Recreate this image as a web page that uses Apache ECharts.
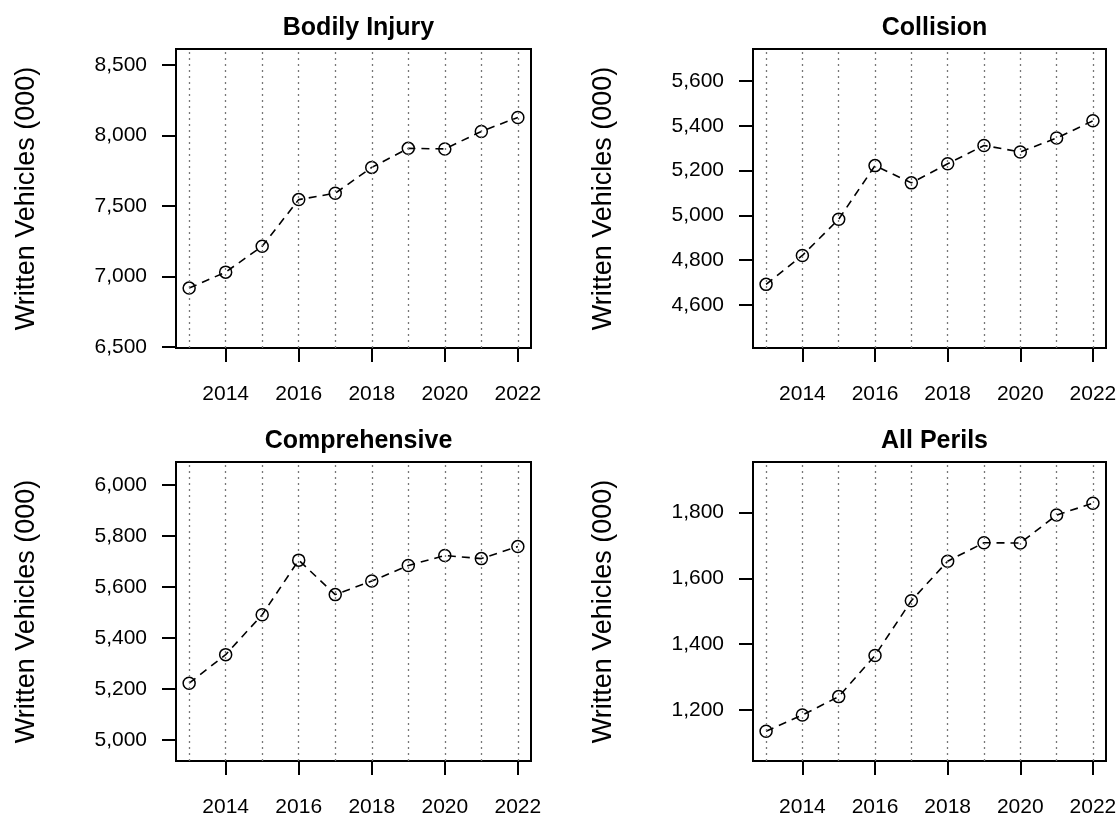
<!DOCTYPE html>
<html lang="en">
<head>
  <meta charset="utf-8">
  <title>Written Vehicles (000)</title>
  <script type="text/javascript" src="https://cdn.jsdelivr.net/npm/echarts@6/dist/echarts.min.js"></script>
  <style type="text/css">
    * {
      margin: 0;
      padding: 0;
    }
    html, body, #chart {
      width: 100%;
      height: 100%;
      overflow: hidden;
      background: #fff;
    }
  </style>
</head>
<body>
  <div id="chart"></div>
  <script type="text/javascript">
    // data
    var years = [2013, 2014, 2015, 2016, 2017, 2018, 2019, 2020, 2021, 2022];
    var yearTicks = [2014, 2016, 2018, 2020, 2022];

    var panelTitles = ['Bodily Injury', 'Collision', 'Comprehensive', 'All Perils'];

    var bodilyInjury = [6919, 7032, 7216, 7546, 7591, 7774, 7909, 7905, 8029, 8128];
    var collision = [4692, 4821, 4983, 5222, 5145, 5230, 5312, 5283, 5345, 5422];
    var comprehensive = [5223, 5335, 5491, 5705, 5570, 5623, 5684, 5723, 5711, 5758];
    var allPerils = [1136, 1185, 1241, 1366, 1532, 1652, 1708, 1707, 1792, 1828];

    var bodilyInjuryTicks = [6500, 7000, 7500, 8000, 8500];
    var collisionTicks = [4600, 4800, 5000, 5200, 5400, 5600];
    var comprehensiveTicks = [5000, 5200, 5400, 5600, 5800, 6000];
    var allPerilsTicks = [1200, 1400, 1600, 1800];

    var panelValues = [bodilyInjury, collision, comprehensive, allPerils];
    var panelTicks = [bodilyInjuryTicks, collisionTicks, comprehensiveTicks, allPerilsTicks];

    // plot boxes [left, top, width, height]
    var boxes = [
      [176, 49, 355, 299],
      [753, 49, 353, 299],
      [176, 462, 355, 299],
      [753, 462, 353, 299]
    ];

    var FONT = '"Liberation Sans", Arial, sans-serif';

    // R style limits: ylim = c(min*0.95, max*1.05), then 4% padding
    function padRange(lo, hi) {
      var d = (hi - lo) * 0.04;
      return [lo - d, hi + d];
    }
    var xRange = padRange(Math.min.apply(null, years), Math.max.apply(null, years));

    var grids = [], xAxes = [], yAxes = [], series = [], titles = [];

    boxes.forEach(function (b, i) {
      var vals = panelValues[i];
      var yRange = padRange(Math.min.apply(null, vals) * 0.95, Math.max.apply(null, vals) * 1.05);

      grids.push({
        left: b[0], top: b[1], width: b[2], height: b[3],
        show: true,
        borderColor: '#000',
        borderWidth: 2,
        backgroundColor: 'transparent'
      });

      titles.push({
        text: panelTitles[i],
        left: b[0] + b[2] / 2,
        top: b[1] - 38,
        textAlign: 'center',
        textStyle: {
          fontFamily: FONT,
          fontSize: 25,
          fontWeight: 'bold',
          color: '#000'
        }
      });

      xAxes.push({
        gridIndex: i,
        type: 'value',
        min: xRange[0],
        max: xRange[1],
        axisLine: { show: false },
        splitLine: { show: false },
        axisTick: {
          show: true,
          customValues: yearTicks,
          length: 14,
          lineStyle: { color: '#000', width: 2 }
        },
        axisLabel: {
          customValues: yearTicks,
          margin: 36,
          fontFamily: FONT,
          fontSize: 21,
          color: '#000',
          formatter: function (v) { return String(v); }
        }
      });

      yAxes.push({
        gridIndex: i,
        type: 'value',
        min: yRange[0],
        max: yRange[1],
        name: 'Written Vehicles (000)',
        nameLocation: 'middle',
        nameRotate: 90,
        nameGap: 136,
        nameTextStyle: {
          fontFamily: FONT,
          fontSize: 27,
          color: '#000'
        },
        axisLine: { show: false },
        splitLine: { show: false },
        axisTick: {
          show: true,
          customValues: panelTicks[i],
          length: 14,
          lineStyle: { color: '#000', width: 2 }
        },
        axisLabel: {
          customValues: panelTicks[i],
          margin: 29,
          fontFamily: FONT,
          fontSize: 21,
          color: '#000',
          formatter: function (v) { return Math.round(v).toLocaleString('en-US'); }
        }
      });

      series.push({
        type: 'line',
        xAxisIndex: i,
        yAxisIndex: i,
        data: years.map(function (y, k) { return [y, vals[k]]; }),
        symbol: 'circle',
        symbolSize: 12,
        itemStyle: {
          color: 'transparent',
          borderColor: '#000',
          borderWidth: 1.5
        },
        lineStyle: {
          color: '#000',
          width: 1.6,
          type: [8, 6]
        },
        silent: true,
        markLine: {
          silent: true,
          symbol: 'none',
          label: { show: false },
          lineStyle: {
            color: '#777',
            width: 1.3,
            type: [2, 4]
          },
          data: years.map(function (y) { return { xAxis: y }; })
        }
      });
    });

    var option = {
      animation: false,
      backgroundColor: '#fff',
      title: titles,
      grid: grids,
      xAxis: xAxes,
      yAxis: yAxes,
      series: series
    };

    var chart = echarts.init(document.getElementById('chart'));
    chart.setOption(option);
  </script>
</body>
</html>
